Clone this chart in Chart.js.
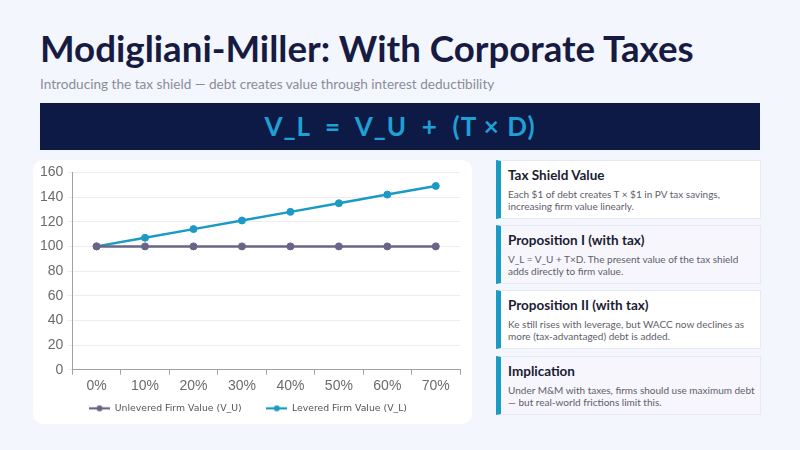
<!DOCTYPE html>
<html lang="en">
<head>
<meta charset="UTF-8" />
<title>Modigliani-Miller: With Corporate Taxes</title>
<script src="https://cdn.jsdelivr.net/npm/chart.js@4.4.3/dist/chart.umd.min.js"></script>
<style>
	html, body {
		margin: 0;
		padding: 0;
		width: 800px;
		height: 450px;
		background: #f4f6fd;
		font-family: "Lato", sans-serif;
		overflow: hidden;
	}
	.title {
		position: absolute;
		left: 40px;
		top: 26px;
		font-size: 36.7px;
		font-weight: bold;
		color: #171b42;
		white-space: nowrap;
	}
	.subtitle {
		position: absolute;
		left: 40px;
		top: 76px;
		font-size: 13.6px;
		color: #8a8d99;
		white-space: nowrap;
	}
	.banner {
		position: absolute;
		left: 40px;
		top: 103px;
		width: 720px;
		height: 47px;
		background: #0c1a45;
		color: #1ea0d6;
		font-size: 26px;
		font-weight: bold;
		text-align: center;
		line-height: 47px;
		white-space: pre;
		letter-spacing: 1px;
	}
	.chartCard {
		position: absolute;
		left: 33px;
		top: 160px;
		width: 439px;
		height: 264px;
		background: #ffffff;
		border-radius: 10px;
	}
	.card {
		position: absolute;
		left: 496px;
		width: 252px;
		height: 57px;
		border-left: 5px solid #1a9bc4;
		border-top: 1px solid #e8eaf3;
		border-right: 1px solid #e8eaf3;
		border-bottom: 1px solid #e8eaf3;
		padding-left: 7px;
		box-sizing: content-box;
		white-space: nowrap;
	}
	.card.alt {
		background: #f6f6fc;
	}
	.card.plain {
		background: #ffffff;
	}
	.card h3 {
		margin: 6px 0 5px 0;
		font-size: 13.5px;
		color: #1b1d33;
	}
	.card p {
		margin: 0;
		font-size: 10px;
		line-height: 12px;
		color: #5e606a;
	}
</style>
</head>
<body>
	<div class="title">Modigliani-Miller: With Corporate Taxes</div>
	<div class="subtitle">Introducing the tax shield — debt creates value through interest deductibility</div>
	<div class="banner">V_L  =  V_U  +  (T × D)</div>

	<div class="chartCard">
		<canvas id="mmChart" width="439" height="264"></canvas>
	</div>

	<div class="card plain" style="top: 160px">
		<h3>Tax Shield Value</h3>
		<p>Each $1 of debt creates T × $1 in PV tax savings,<br>increasing firm value linearly.</p>
	</div>
	<div class="card alt" style="top: 225px">
		<h3>Proposition I (with tax)</h3>
		<p>V_L = V_U + T×D. The present value of the tax shield<br>adds directly to firm value.</p>
	</div>
	<div class="card plain" style="top: 290px">
		<h3>Proposition II (with tax)</h3>
		<p>Ke still rises with leverage, but WACC now declines as<br>more (tax-advantaged) debt is added.</p>
	</div>
	<div class="card alt" style="top: 356px">
		<h3>Implication</h3>
		<p>Under M&amp;M with taxes, firms should use maximum debt<br>— but real-world frictions limit this.</p>
	</div>

	<script>
		const debtRatios = ["0%", "10%", "20%", "30%", "40%", "50%", "60%", "70%"];
		const unleveredValue = [100, 100, 100, 100, 100, 100, 100, 100];
		const leveredValue = [100, 107, 114, 121, 128, 135, 142, 149];
		const yTicks = [0, 20, 40, 60, 80, 100, 120, 140, 160];

		// legend marker: short line with a dot in the middle
		function legendMarker(color) {
			const c = document.createElement("canvas");
			c.width = 21;
			c.height = 8;
			const g = c.getContext("2d");
			g.strokeStyle = color;
			g.lineWidth = 2.2;
			g.beginPath();
			g.moveTo(0, 4);
			g.lineTo(21, 4);
			g.stroke();
			g.fillStyle = color;
			g.beginPath();
			g.arc(10.5, 4, 3, 0, Math.PI * 2);
			g.fill();
			return c;
		}

		const ctx = document.getElementById("mmChart").getContext("2d");
		new Chart(ctx, {
			type: "line",
			data: {
				labels: debtRatios,
				datasets: [
					{
						label: "Unlevered Firm Value (V_U)",
						data: unleveredValue,
						borderColor: "#6a6485",
						backgroundColor: "#6a6485",
						borderWidth: 2.5,
						pointRadius: 3.5,
						pointBorderWidth: 1,
					},
					{
						label: "Levered Firm Value (V_L)",
						data: leveredValue,
						borderColor: "#1b9ac5",
						backgroundColor: "#1b9ac5",
						borderWidth: 2.5,
						pointRadius: 3.5,
						pointBorderWidth: 1,
					},
				],
			},
			options: {
				responsive: false,
				animation: false,
				layout: { padding: { left: 3, right: 12, top: 5, bottom: 1 } },
				elements: {
					point: { pointStyle: "circle", hoverRadius: 3.5 },
					line: { tension: 0 },
				},
				plugins: {
					legend: {
						position: "bottom",
						labels: {
							usePointStyle: true,
							pointStyleWidth: 21,
							// trailing spaces widen the gap between the two entries
							generateLabels: (chart) =>
								chart.data.datasets.map((ds, i) => ({
									text: ds.label + (i === 0 ? "      " : ""),
									pointStyle: legendMarker(ds.borderColor),
									fillStyle: ds.borderColor,
									strokeStyle: ds.borderColor,
									lineWidth: 0,
									hidden: false,
									datasetIndex: i,
									fontColor: "#555555",
								})),
							font: { family: "DejaVu Sans", size: 9.3 },
							color: "#555555",
							padding: 7,
						},
					},
					tooltip: { enabled: false },
				},
				scales: {
					x: {
						offset: true,
						grid: {
							offset: true,
							drawOnChartArea: false,
							drawTicks: true,
							tickLength: 5,
							color: "#a0a0a8",
						},
						border: { color: "#a0a0a8" },
						ticks: {
							color: "#6b6b6b",
							font: { family: "Liberation Sans", size: 14, lineHeight: 1 },
							padding: 4,
						},
					},
					y: {
						min: 0,
						max: 160,
						afterBuildTicks: (axis) => {
							axis.ticks = yTicks.map((v) => ({ value: v }));
						},
						grid: {
							color: "#ececf2",
							tickLength: 5,
						},
						border: { color: "#a0a0a8" },
						ticks: {
							color: "#6b6b6b",
							font: { family: "Liberation Sans", size: 14 },
							padding: 4,
						},
					},
				},
			},
		});
	</script>
</body>
</html>
